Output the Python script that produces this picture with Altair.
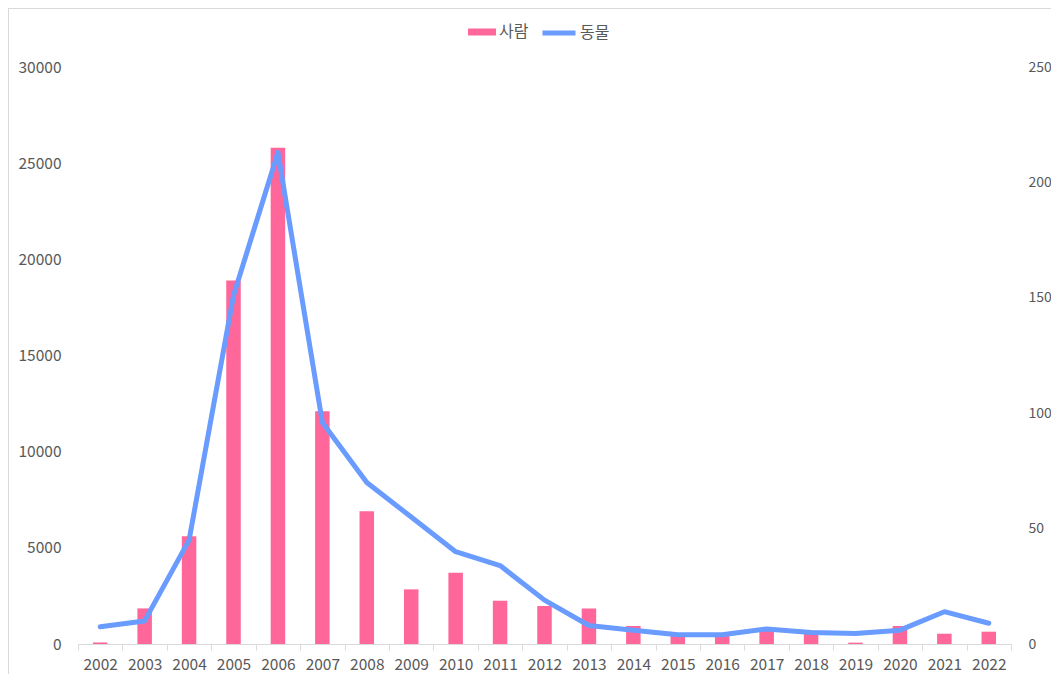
import altair as alt
import pandas as pd

years = [str(y) for y in range(2002, 2023)]
people = [80, 1850, 5600, 18900, 25800, 12100, 6900, 2840, 3700, 2250, 1975,
          1850, 935, 560, 550, 780, 690, 70, 935, 535, 640]
animals = [7.5, 10, 45, 151, 213, 96, 70, 55, 40, 34, 19,
           8, 6, 4, 4, 6.5, 5, 4.5, 6, 14, 9]

df = pd.DataFrame({"연도": years, "사람": people, "동물": animals,
                   "s1": ["사람"] * len(years), "s2": ["동물"] * len(years)})

FONT = "Noto Sans CJK KR"
GREY = "#595959"
PINK = "#FF6699"
BLUE = "#6A9BFF"

x = alt.X("연도:N", title=None, sort=years,
          scale=alt.Scale(paddingInner=0, paddingOuter=0),
          axis=alt.Axis(labelAngle=0, labelColor=GREY, labelFont=FONT, labelFontSize=15.5,
                        domainColor="#D9D9D9", tickColor="#D9D9D9", tickSize=6,
                        tickBand="extent", labelPadding=7, grid=False))

bars = alt.Chart(df).mark_bar(size=14.5, color=PINK).encode(
    x=x,
    y=alt.Y("사람:Q", title=None,
            scale=alt.Scale(domain=[0, 30000], nice=False),
            axis=alt.Axis(values=[0, 5000, 10000, 15000, 20000, 25000, 30000], format="d",
                          domain=False, ticks=False, grid=False, labelColor=GREY,
                          labelFont=FONT, labelFontSize=15.5, labelPadding=17)),
    color=alt.Color("s1:N", title=None,
                    scale=alt.Scale(domain=["사람"], range=[PINK]),
                    legend=alt.Legend(orient="none", legendX=390, legendY=-49,
                                      symbolType="M-1,-0.25H1V0.25H-1Z", symbolSize=784,
                                      symbolStrokeWidth=0, labelFont=FONT, labelFontSize=16,
                                      labelColor=GREY, labelOffset=3)),
)

line = alt.Chart(df).mark_line(strokeWidth=5, strokeCap="round", strokeJoin="round").encode(
    x=x,
    y=alt.Y("동물:Q", title=None,
            scale=alt.Scale(domain=[0, 250], nice=False),
            axis=alt.Axis(orient="right", values=[0, 50, 100, 150, 200, 250],
                          domain=False, ticks=False, grid=False, labelColor=GREY,
                          labelFont=FONT, labelFontSize=14, labelPadding=17)),
    color=alt.Color("s2:N", title=None,
                    scale=alt.Scale(domain=["동물"], range=[BLUE]),
                    legend=alt.Legend(orient="none", legendX=462, legendY=-53,
                                      symbolType="stroke", symbolSize=1089,
                                      symbolStrokeWidth=5, labelFont=FONT, labelFontSize=16,
                                      labelColor=GREY, labelOffset=2)),
)

frame_top = alt.Chart(df).mark_rule(color="#D9D9D9", strokeWidth=1).encode(
    x=alt.value(-70), x2=alt.value(985), y=alt.value(-58.5))
frame_left = alt.Chart(df).mark_rule(color="#D9D9D9", strokeWidth=1).encode(
    x=alt.value(-69.5), y=alt.value(-58.5), y2=alt.value(620))

chart = alt.layer(bars, line, frame_top, frame_left).resolve_scale(
    y="independent", color="independent"
).properties(
    width=933, height=577,
    padding={"left": 70, "top": 59, "right": 40, "bottom": 30},
    autosize=alt.AutoSizeParams(type="none"),
).configure_view(stroke=None)

chart.save("out.html", embed_options={"renderer": "svg", "actions": False})
